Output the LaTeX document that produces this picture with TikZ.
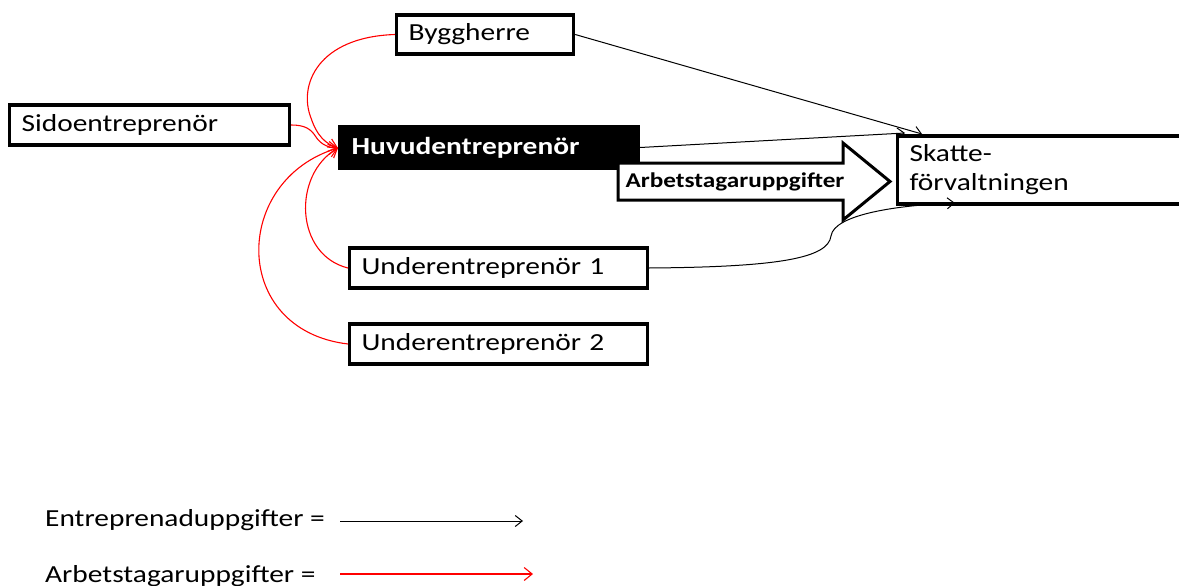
\documentclass[tikz,border=0pt]{standalone}
\usepackage{fontspec}
\setmainfont{Carlito}[FakeStretch=1.2]
\usetikzlibrary{arrows.meta}
\tikzset{
  box/.style={draw, line width=3.2pt, fill=white, anchor=west, inner xsep=12pt, inner ysep=0pt,
    font=\fontsize{24.5}{29}\selectfont, align=left},
  blk/.style={draw=black, line width=1pt, -{Straight Barb[length=7pt,width=11pt]}},
  red/.style={draw=red, line width=1.1pt, -{Straight Barb[length=8pt,width=13pt]}},
  lbl/.style={anchor=west, inner sep=0pt, font=\fontsize{24.5}{29}\selectfont}
}
\begin{document}
\begin{tikzpicture}[x=1pt,y=-1pt]
\useasboundingbox (0,0) rectangle (1179,586);
\clip (0,0) rectangle (1179,586);

% boxes
\node[box, text width=153pt, minimum height=39pt] (bh) at (395,34.5) {Byggherre};
\node[box, text width=256pt, minimum height=40pt] (sido) at (8,125) {Sidoentreprenör};
\node[box, fill=black, text=white, text width=275pt, minimum height=41pt, font=\fontsize{24.5}{29}\selectfont\bfseries] (huvud) at (338,147.5) {Huvudentreprenör};
\node[box, text width=270pt, minimum height=68pt] (skatt) at (896,170) {Skatte-\\förvaltningen};
\node[box, text width=274pt, minimum height=40pt] (u1) at (348,268) {Underentreprenör 1};
\node[box, text width=274pt, minimum height=40pt] (u2) at (348,344) {Underentreprenör 2};

% block arrow
\draw[line width=3pt, fill=white, line join=miter] (618,163) -- (843,163) -- (843,143) -- (890,181.5) -- (843,220) -- (843,200) -- (618,200) -- cycle;
\node[inner sep=0pt, font=\fontsize{21}{25}\selectfont\bfseries] (arb) at (735,182) {Arbetstagaruppgifter};

% black connectors
\coordinate (sk1) at (922,134);
\coordinate (sk2) at (905,133);
\coordinate (sk3) at (955,203);
\draw[blk] (bh.east) -- (sk1);
\draw[blk] (huvud.east) -- (sk2);
\draw[blk] (u1.east) .. controls (780,267) and (828,258) .. (831,236) .. controls (834,214) and (900,205) .. (sk3);

% red connectors
\coordinate (hin) at (338,148);
\draw[red] (bh.west) .. controls (318,37) and (298,85) .. (311,118) .. controls (317,136) and (326,144) .. (hin);
\draw[red] (sido.east) .. controls (305,125) and (311,129) .. (316,137) .. controls (321,145) and (330,148) .. (hin);
\draw[red] (u1.west) .. controls (295,255) and (292,175) .. (hin);
\draw[red] (u2.west) .. controls (230,330) and (232,180) .. (hin);

% legend
\node[lbl] (l1) at (45,520) {Entreprenaduppgifter =};
\node[lbl] (l2) at (45,576) {Arbetstagaruppgifter =};
\coordinate (a1s) at (340,521);
\coordinate (a1e) at (523,521);
\coordinate (a2s) at (340,574);
\coordinate (a2e) at (533,574);
\draw[blk] (a1s) -- (a1e);
\draw[red] (a2s) -- (a2e);
\end{tikzpicture}
\end{document}
